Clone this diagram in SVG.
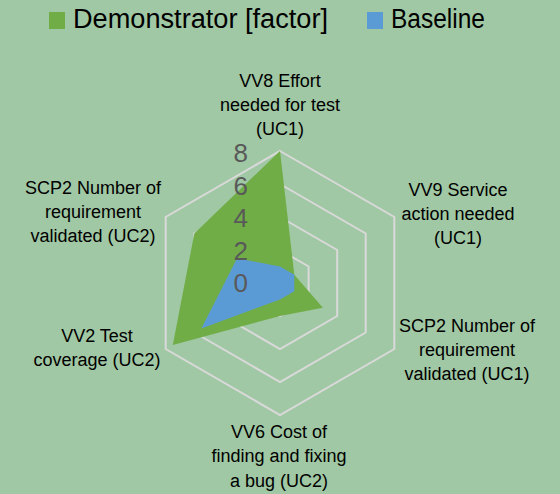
<svg xmlns="http://www.w3.org/2000/svg" width="560" height="494" viewBox="0 0 560 494">
  <style>
    .bg { fill: #A0C8A4; }
    .ring { fill: none; stroke: #D9D9D9; stroke-width: 2; stroke-linejoin: miter; }
    .demo { fill: #70AD47; }
    .base { fill: #5B9BD5; }
    .legend { font-family: "Liberation Sans", Arial, sans-serif; font-size: 27px; fill: #000000; }
    .tick { font-family: "Liberation Sans", Arial, sans-serif; font-size: 26px; fill: #595959; text-anchor: end; }
    .cat { font-family: "Liberation Sans", Arial, sans-serif; font-size: 18px; fill: #000000; text-anchor: middle; }
  </style>

  <rect class="bg" x="0" y="0" width="560" height="494"/>

  <!-- legend -->
  <g id="legend">
    <rect class="demo" x="49" y="12" width="16" height="17"/>
    <text class="legend" x="73" y="28" textLength="255" lengthAdjust="spacingAndGlyphs">Demonstrator [factor]</text>
    <rect class="base" x="367" y="12" width="16" height="17"/>
    <text class="legend" x="391" y="28" textLength="94" lengthAdjust="spacingAndGlyphs">Baseline</text>
  </g>

  <!-- radar grid: centre (280,283), 16.5 px per unit, rings at 2, 4, 6, 8 -->
  <g id="grid">
    <polygon class="ring" points="280,250 308.6,266.5 308.6,299.5 280,316 251.4,299.5 251.4,266.5"/>
    <polygon class="ring" points="280,217 337.2,250 337.2,316 280,349 222.8,316 222.8,250"/>
    <polygon class="ring" points="280,184 365.7,233.5 365.7,332.5 280,382 194.3,332.5 194.3,233.5"/>
    <polygon class="ring" points="280,151 394.3,217 394.3,349 280,415 165.7,349 165.7,217"/>
  </g>

  <!-- data series -->
  <g id="series-demonstrator">
    <polygon class="demo" points="280,151 294.3,274.75 322.9,307.75 280,316 172.8,344.9 194.3,233.5"/>
  </g>
  <g id="series-baseline">
    <polygon class="base" points="280,266.5 294.3,274.75 294.3,291.25 280,299.5 201.4,328.4 237.1,258.25"/>
  </g>

  <!-- value axis labels -->
  <g id="value-axis">
    <text class="tick" x="248" y="162">8</text>
    <text class="tick" x="248" y="195">6</text>
    <text class="tick" x="248" y="227">4</text>
    <text class="tick" x="248" y="260">2</text>
    <text class="tick" x="248" y="292">0</text>
  </g>

  <!-- category labels -->
  <g id="cat-vv8">
    <text class="cat" x="280" y="87">VV8 Effort</text>
    <text class="cat" x="280" y="111">needed for test</text>
    <text class="cat" x="280" y="135">(UC1)</text>
  </g>
  <g id="cat-vv9">
    <text class="cat" x="458" y="196">VV9 Service</text>
    <text class="cat" x="458" y="220">action needed</text>
    <text class="cat" x="458" y="244">(UC1)</text>
  </g>
  <g id="cat-scp2-uc1">
    <text class="cat" x="467" y="332">SCP2 Number of</text>
    <text class="cat" x="467" y="356">requirement</text>
    <text class="cat" x="467" y="380">validated (UC1)</text>
  </g>
  <g id="cat-vv6">
    <text class="cat" x="279" y="438">VV6 Cost of</text>
    <text class="cat" x="279" y="462">finding and fixing</text>
    <text class="cat" x="279" y="487">a bug (UC2)</text>
  </g>
  <g id="cat-vv2">
    <text class="cat" x="97" y="342">VV2 Test</text>
    <text class="cat" x="97" y="366">coverage (UC2)</text>
  </g>
  <g id="cat-scp2-uc2">
    <text class="cat" x="93" y="194">SCP2 Number of</text>
    <text class="cat" x="93" y="218">requirement</text>
    <text class="cat" x="93" y="242">validated (UC2)</text>
  </g>
</svg>
